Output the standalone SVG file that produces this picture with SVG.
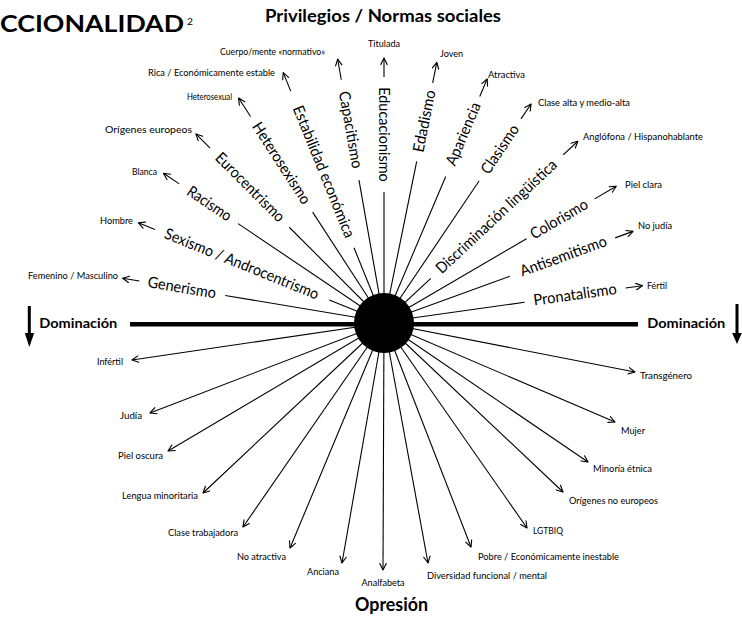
<svg xmlns="http://www.w3.org/2000/svg" width="742" height="617" viewBox="0 0 742 617">
<defs>
<marker id="ah" viewBox="0 0 10 10" refX="9" refY="5" markerWidth="8" markerHeight="8" markerUnits="userSpaceOnUse" orient="auto">
<path d="M1,1 L9,5 L1,9" fill="none" stroke="#000" stroke-width="1.4" stroke-linecap="round" stroke-linejoin="round"/>
</marker>
</defs>
<style>
.sp{stroke:#000;stroke-width:1.1;fill:none}
.ar{stroke:#000;stroke-width:1.1;fill:none;marker-end:url(#ah)}
.lb{font-family:Lato,"Liberation Sans",sans-serif;font-size:15.5px;fill:#000;text-anchor:middle}
.sm{font-family:Lato,"Liberation Sans",sans-serif;font-size:10.3px;fill:#000}
.e{text-anchor:end}
.m{text-anchor:middle}
.hd{font-family:Lato,"Liberation Sans",sans-serif;font-weight:bold;fill:#000}
</style>
<rect width="742" height="617" fill="#fff"/>

<g id="connectors">
<line x1="130" y1="324.3" x2="638" y2="324.3" stroke="#000" stroke-width="4.5"/>
<g transform="translate(384,322) rotate(189.5)"><line class="sp" x1="0" y1="0" x2="161" y2="0"/><line class="ar" x1="248" y1="0" x2="265" y2="0"/></g>
<g transform="translate(384,322) rotate(202)"><line class="sp" x1="0" y1="0" x2="59" y2="0"/><line class="ar" x1="247" y1="0" x2="265" y2="0"/></g>
<g transform="translate(384,322) rotate(214)"><line class="sp" x1="0" y1="0" x2="176" y2="0"/><line class="ar" x1="247" y1="0" x2="266" y2="0"/></g>
<g transform="translate(384,322) rotate(225)"><line class="sp" x1="0" y1="0" x2="134" y2="0"/><line class="ar" x1="246" y1="0" x2="266" y2="0"/></g>
<g transform="translate(384,322) rotate(237)"><line class="sp" x1="0" y1="0" x2="131" y2="0"/><line class="ar" x1="245" y1="0" x2="267" y2="0"/></g>
<g transform="translate(384,322) rotate(248)"><line class="sp" x1="0" y1="0" x2="80" y2="0"/><line class="ar" x1="249" y1="0" x2="269" y2="0"/></g>
<g transform="translate(384,322) rotate(260)"><line class="sp" x1="0" y1="0" x2="144" y2="0"/><line class="ar" x1="246" y1="0" x2="267" y2="0"/></g>
<g transform="translate(384,322) rotate(270)"><line class="sp" x1="0" y1="0" x2="130" y2="0"/><line class="ar" x1="245" y1="0" x2="264" y2="0"/></g>
<g transform="translate(384,322) rotate(-78.5)"><line class="sp" x1="0" y1="0" x2="164" y2="0"/><line class="ar" x1="244" y1="0" x2="265" y2="0"/></g>
<g transform="translate(384,322) rotate(-67)"><line class="sp" x1="0" y1="0" x2="158" y2="0"/><line class="ar" x1="245" y1="0" x2="264" y2="0"/></g>
<g transform="translate(384,322) rotate(-56)"><line class="sp" x1="0" y1="0" x2="170" y2="0"/><line class="ar" x1="245" y1="0" x2="263" y2="0"/></g>
<g transform="translate(384,322) rotate(-43)"><line class="sp" x1="0" y1="0" x2="64" y2="0"/><line class="ar" x1="245" y1="0" x2="265" y2="0"/></g>
<g transform="translate(384,322) rotate(-30.3)"><line class="sp" x1="0" y1="0" x2="165" y2="0"/><line class="ar" x1="244" y1="0" x2="269" y2="0"/></g>
<g transform="translate(384,322) rotate(-20)"><line class="sp" x1="0" y1="0" x2="134" y2="0"/><line class="ar" x1="246" y1="0" x2="265" y2="0"/></g>
<g transform="translate(384,322) rotate(-8)"><line class="sp" x1="0" y1="0" x2="142" y2="0"/><line class="ar" x1="244" y1="0" x2="261" y2="0"/></g>

<line class="ar" x1="384" y1="323" x2="132" y2="360"/>
<line class="ar" x1="384" y1="323" x2="150" y2="413"/>
<line class="ar" x1="384" y1="323" x2="168" y2="451"/>
<line class="ar" x1="384" y1="323" x2="203" y2="493"/>
<line class="ar" x1="384" y1="323" x2="243" y2="527"/>
<line class="ar" x1="384" y1="323" x2="290" y2="548"/>
<line class="ar" x1="384" y1="323" x2="342" y2="563"/>
<line class="ar" x1="384" y1="323" x2="383" y2="570"/>
<line class="ar" x1="384" y1="323" x2="428" y2="563"/>
<line class="ar" x1="384" y1="323" x2="471" y2="547"/>
<line class="ar" x1="384" y1="323" x2="527" y2="528"/>
<line class="ar" x1="384" y1="323" x2="563" y2="492"/>
<line class="ar" x1="384" y1="323" x2="588" y2="462"/>
<line class="ar" x1="384" y1="323" x2="615" y2="422"/>
<line class="ar" x1="384" y1="323" x2="635" y2="372"/>
</g>

<g id="center"><circle cx="384" cy="323" r="30" fill="#000"/></g>

<g id="titles">
<text class="hd" x="0" y="32" font-size="23.5" textLength="184" lengthAdjust="spacingAndGlyphs">CCIONALIDAD</text>
<text class="sm" x="187" y="25" font-size="10">2</text>
<text class="hd" x="265" y="22" font-size="16.5" textLength="236" lengthAdjust="spacingAndGlyphs">Privilegios / Normas sociales</text>
<text class="hd" x="355" y="611" font-size="18.5" textLength="73" lengthAdjust="spacingAndGlyphs">Opresión</text>
</g>

<g id="dom-left">
<text class="hd" x="39.3" y="328" font-size="13.5" textLength="78" lengthAdjust="spacingAndGlyphs">Dominación</text>
<rect x="27.8" y="306" width="3" height="28" fill="#000"/>
<polygon points="24.8,333 34.2,333 29.3,347" fill="#000"/>
</g>
<g id="dom-right">
<text class="hd" x="647.3" y="328" font-size="13.5" textLength="78" lengthAdjust="spacingAndGlyphs">Dominación</text>
<rect x="735.5" y="304" width="3" height="30" fill="#000"/>
<polygon points="732.2,333 741.8,333 737,344" fill="#000"/>
</g>

<g id="n-generismo">
<text class="lb" transform="translate(384,322) rotate(189.5) rotate(180 205 0)" x="205" y="0" dy=".3em" textLength="69" lengthAdjust="spacingAndGlyphs">Generismo</text>
<text class="sm e" x="118" y="278.5" textLength="90" lengthAdjust="spacingAndGlyphs">Femenino / Masculino</text>
</g>
<g id="n-sexismo">
<text class="lb" transform="translate(384,322) rotate(202) rotate(180 153.6 0)" x="153.6" y="0" dy=".3em" textLength="165" lengthAdjust="spacingAndGlyphs">Sexismo / Androcentrismo</text>
<text class="sm e" x="133" y="223.5" textLength="33" lengthAdjust="spacingAndGlyphs">Hombre</text>
</g>
<g id="n-racismo">
<text class="lb" transform="translate(384,322) rotate(214) rotate(180 211 0)" x="211" y="0" dy=".3em" textLength="50" lengthAdjust="spacingAndGlyphs">Racismo</text>
<text class="sm e" x="157" y="175" textLength="25" lengthAdjust="spacingAndGlyphs">Blanca</text>
</g>
<g id="n-eurocentrismo">
<text class="lb" transform="translate(384,322) rotate(225) rotate(180 190 0)" x="190" y="0" dy=".3em" textLength="91" lengthAdjust="spacingAndGlyphs">Eurocentrismo</text>
<text class="sm e" x="192" y="133" textLength="87" lengthAdjust="spacingAndGlyphs">Orígenes europeos</text>
</g>
<g id="n-heterosexismo">
<text class="lb" transform="translate(384,322) rotate(237) rotate(180 189 0)" x="189" y="0" dy=".3em" textLength="94" lengthAdjust="spacingAndGlyphs">Heterosexismo</text>
<text class="sm e" x="232" y="99.5" textLength="45" lengthAdjust="spacingAndGlyphs">Heterosexual</text>
</g>
<g id="n-estabilidad">
<text class="lb" transform="translate(384,322) rotate(248) rotate(180 162 0)" x="162" y="0" dy=".3em" textLength="141" lengthAdjust="spacingAndGlyphs">Estabilidad económica</text>
<text class="sm e" x="275" y="75.5" textLength="127" lengthAdjust="spacingAndGlyphs">Rica / Económicamente estable</text>
</g>
<g id="n-capacitismo">
<text class="lb" transform="translate(384,322) rotate(260) rotate(180 195 0)" x="195" y="0" dy=".3em" textLength="78" lengthAdjust="spacingAndGlyphs">Capacitismo</text>
<text class="sm e" x="325" y="55" textLength="105" lengthAdjust="spacingAndGlyphs">Cuerpo/mente «normativo»</text>
</g>
<g id="n-educacionismo">
<text class="lb" transform="translate(384,322) rotate(270) rotate(180 187.5 0)" x="187.5" y="0" dy=".3em" textLength="94.5" lengthAdjust="spacingAndGlyphs">Educacionismo</text>
<text class="sm m" x="384" y="47" textLength="32" lengthAdjust="spacingAndGlyphs">Titulada</text>
</g>
<g id="n-edadismo">
<text class="lb" transform="translate(384,322) rotate(-78.5)" x="205" y="0" dy=".3em" textLength="63" lengthAdjust="spacingAndGlyphs">Edadismo</text>
<text class="sm" x="440" y="57" textLength="23" lengthAdjust="spacingAndGlyphs">Joven</text>
</g>
<g id="n-apariencia">
<text class="lb" transform="translate(384,322) rotate(-67)" x="204" y="0" dy=".3em" textLength="67" lengthAdjust="spacingAndGlyphs">Apariencia</text>
<text class="sm" x="488" y="77.5" textLength="37" lengthAdjust="spacingAndGlyphs">Atractiva</text>
</g>
<g id="n-clasismo">
<text class="lb" transform="translate(384,322) rotate(-56)" x="208" y="0" dy=".3em" textLength="55.5" lengthAdjust="spacingAndGlyphs">Clasismo</text>
<text class="sm" x="538" y="106" textLength="92" lengthAdjust="spacingAndGlyphs">Clase alta y medio-alta</text>
</g>
<g id="n-linguistica">
<text class="lb" transform="translate(384,322) rotate(-43)" x="154" y="0" dy=".3em" textLength="159" lengthAdjust="spacingAndGlyphs">Discriminación lingüística</text>
<text class="sm" x="583" y="140" textLength="120" lengthAdjust="spacingAndGlyphs">Anglófona / Hispanohablante</text>
</g>
<g id="n-colorismo">
<text class="lb" transform="translate(384,322) rotate(-30.3)" x="203" y="0" dy=".3em" textLength="64" lengthAdjust="spacingAndGlyphs">Colorismo</text>
<text class="sm" x="625" y="188" textLength="37" lengthAdjust="spacingAndGlyphs">Piel clara</text>
</g>
<g id="n-antisemitismo">
<text class="lb" transform="translate(384,322) rotate(-20)" x="191" y="0" dy=".3em" textLength="91" lengthAdjust="spacingAndGlyphs">Antisemitismo</text>
<text class="sm" x="638" y="228.5" textLength="34" lengthAdjust="spacingAndGlyphs">No judía</text>
</g>
<g id="n-pronatalismo">
<text class="lb" transform="translate(384,322) rotate(-8)" x="193" y="0" dy=".3em" textLength="84" lengthAdjust="spacingAndGlyphs">Pronatalismo</text>
<text class="sm" x="647" y="288.5" textLength="20" lengthAdjust="spacingAndGlyphs">Fértil</text>
</g>

<g id="n-infertil"><text class="sm e" x="123" y="365" textLength="26" lengthAdjust="spacingAndGlyphs">Infértil</text></g>
<g id="n-judia"><text class="sm e" x="142" y="419" textLength="22" lengthAdjust="spacingAndGlyphs">Judía</text></g>
<g id="n-pieloscura"><text class="sm e" x="163" y="458.5" textLength="45" lengthAdjust="spacingAndGlyphs">Piel oscura</text></g>
<g id="n-lengua"><text class="sm e" x="198" y="499" textLength="76" lengthAdjust="spacingAndGlyphs">Lengua minoritaria</text></g>
<g id="n-trabajadora"><text class="sm e" x="238" y="536" textLength="70" lengthAdjust="spacingAndGlyphs">Clase trabajadora</text></g>
<g id="n-noatractiva"><text class="sm e" x="286" y="559.5" textLength="49" lengthAdjust="spacingAndGlyphs">No atractiva</text></g>
<g id="n-anciana"><text class="sm e" x="339" y="575" textLength="32" lengthAdjust="spacingAndGlyphs">Anciana</text></g>
<g id="n-analfabeta"><text class="sm m" x="383" y="586" textLength="43" lengthAdjust="spacingAndGlyphs">Analfabeta</text></g>
<g id="n-diversidad"><text class="sm" x="427" y="578.5" textLength="120" lengthAdjust="spacingAndGlyphs">Diversidad funcional / mental</text></g>
<g id="n-pobre"><text class="sm" x="478" y="559.5" textLength="141" lengthAdjust="spacingAndGlyphs">Pobre / Económicamente inestable</text></g>
<g id="n-lgtbiq"><text class="sm" x="533" y="534" textLength="30" lengthAdjust="spacingAndGlyphs">LGTBIQ</text></g>
<g id="n-noeuropeos"><text class="sm" x="569" y="503.5" textLength="89" lengthAdjust="spacingAndGlyphs">Orígenes no europeos</text></g>
<g id="n-minoria"><text class="sm" x="593" y="472" textLength="59" lengthAdjust="spacingAndGlyphs">Minoría étnica</text></g>
<g id="n-mujer"><text class="sm" x="621" y="433.5" textLength="24" lengthAdjust="spacingAndGlyphs">Mujer</text></g>
<g id="n-transgenero"><text class="sm" x="640" y="379" textLength="52" lengthAdjust="spacingAndGlyphs">Transgénero</text></g>
</svg>
